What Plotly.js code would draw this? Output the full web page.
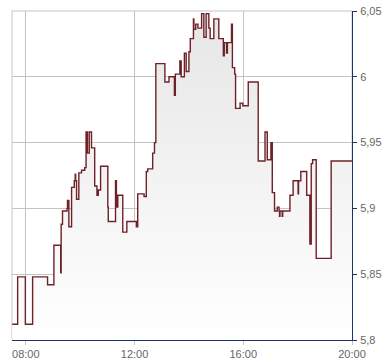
<!DOCTYPE html>
<html>
<head>
<meta charset="utf-8">
<script src="https://cdn.plot.ly/plotly-3.0.1.min.js"></script>
<style>
html,body{margin:0;padding:0;background:#fff;}
#chart{width:390px;height:364px;}
</style>
</head>
<body>
<div id="chart"></div>
<script>
const day = '2024-01-01 ';
const times = ['07:30','07:42','07:59','08:15','08:48','09:02','09:17','09:18','09:21','09:31','09:32','09:35','09:41','09:47','09:49','09:50','09:52','09:57','10:03','10:10','10:13','10:16','10:20','10:25','10:32','10:37','10:40','10:45','11:01','11:02','11:18','11:20','11:23','11:34','11:43','12:04','12:07','12:21','12:26','12:29','12:40','12:44','12:47','13:07','13:16','13:28','13:30','13:40','13:43','13:50','13:54','14:00','14:03','14:10','14:11','14:15','14:20','14:28','14:33','14:38','14:44','14:47','14:55','15:06','15:16','15:18','15:23','15:25','15:34','15:36','15:41','15:43','15:53','15:59','16:11','16:33','16:48','16:53','17:01','17:04','17:09','17:15','17:19','17:20','17:21','17:26','17:27','17:43','17:50','18:01','18:02','18:07','18:20','18:27','18:30','18:33','18:41','19:14','20:00'];
const prices = [5.812,5.848,5.812,5.848,5.842,5.872,5.851,5.888,5.898,5.900,5.906,5.886,5.916,5.921,5.926,5.921,5.907,5.927,5.929,5.931,5.958,5.942,5.958,5.946,5.917,5.910,5.914,5.932,5.901,5.890,5.921,5.901,5.910,5.882,5.890,5.886,5.911,5.909,5.928,5.930,5.942,5.950,6.010,5.996,6.000,5.986,6.002,6.012,6.000,6.018,6.004,6.019,6.029,6.044,6.036,6.040,6.037,6.048,6.030,6.048,6.037,6.029,6.044,6.029,6.016,6.026,6.018,6.026,6.040,6.007,6.002,5.976,5.980,5.978,5.996,5.936,5.958,5.937,5.950,5.912,5.898,5.901,5.898,5.894,5.898,5.894,5.898,5.910,5.921,5.911,5.921,5.928,5.910,5.873,5.934,5.937,5.862,5.936,5.936];
const yTickVals = [5.8,5.85,5.9,5.95,6,6.05];
const yTickText = ['5,8','5,85','5,9','5,95','6','6,05'];
const xTickVals = ['08:00','12:00','16:00','20:00'];

const x = times.map(t => day + t);

const trace = {
  x: x, y: prices, type: 'scatter', mode: 'lines',
  line: {shape: 'hv', color: '#6e2228', width: 1.4},
  fill: 'tozeroy',
  fillgradient: {type: 'vertical', start: 5.8, stop: 6.05,
    colorscale: [[0, '#ffffff'], [1, '#e6e6e6']]},
  hoverinfo: 'skip'
};

const layout = {
  width: 390, height: 364,
  margin: {l: 12, r: 38, t: 11, b: 24, pad: 0},
  paper_bgcolor: '#ffffff', plot_bgcolor: '#ffffff',
  showlegend: false,
  font: {family: 'Liberation Sans, Arial, sans-serif', size: 11, color: '#666666'},
  xaxis: {
    type: 'date',
    range: [day + '07:29:30', day + '20:00'],
    tickvals: xTickVals.map(t => day + t),
    ticktext: xTickVals,
    showgrid: true, gridcolor: '#c4c4c4', gridwidth: 1,
    showline: true, linecolor: '#1d3465', linewidth: 1,
    ticks: 'outside', ticklen: 4, tickcolor: '#c4c4c4',
    zeroline: false, fixedrange: true
  },
  yaxis: {
    side: 'right',
    range: [5.8, 6.05],
    tickvals: yTickVals, ticktext: yTickText,
    showgrid: true, gridcolor: '#c4c4c4', gridwidth: 1,
    showline: true, linecolor: '#1d3465', linewidth: 1,
    ticks: 'outside', ticklen: 4, tickcolor: '#1d3465',
    ticklabelstandoff: 1,
    zeroline: false, fixedrange: true
  },
  shapes: [{type: 'rect', xref: 'paper', yref: 'paper', x0: 0, x1: 1, y0: 0, y1: 1,
    line: {color: '#c4c4c4', width: 1}, layer: 'below'}]
};

Plotly.newPlot('chart', [trace], layout, {staticPlot: true, displayModeBar: false});
</script>
</body>
</html>
